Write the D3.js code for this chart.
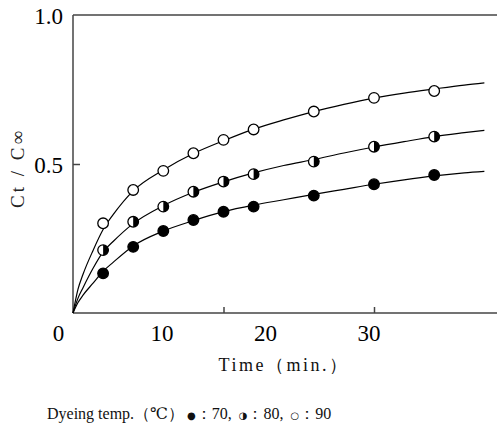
<!DOCTYPE html>
<html>
<head>
<meta charset="utf-8">
<script src="https://cdn.jsdelivr.net/npm/d3@7"></script>
<style>
  body { margin: 0; background: #fff; }
  svg { display: block; }
</style>
</head>
<body>
<div id="viz-1"></div>
<script>
/* ######################## data ###############*/
// sampling times of the measured points (min.)
var pointTimes = [3, 6, 9, 12, 15, 18, 24, 30, 36];
// measured Ct/C∞ at 70, 80, 90 ℃
var points70 = [0.133, 0.222, 0.275, 0.312, 0.340, 0.357, 0.394, 0.432, 0.463];
var points80 = [0.211, 0.306, 0.357, 0.407, 0.441, 0.466, 0.508, 0.558, 0.592];
var points90 = [0.301, 0.413, 0.477, 0.536, 0.581, 0.616, 0.676, 0.722, 0.745];

// the drawn curves, read at these times
var curveTimes = [0, 0.5, 1, 2, 3, 4, 6, 9, 12, 15, 18, 21, 24, 27, 30, 33, 36, 39, 41];
var curve70 = [0, 0.035, 0.06, 0.10, 0.14, 0.17, 0.225, 0.275, 0.31, 0.34, 0.362, 0.38, 0.398, 0.415, 0.432, 0.447, 0.46, 0.47, 0.475];
var curve80 = [0, 0.05, 0.085, 0.15, 0.205, 0.24, 0.30, 0.36, 0.405, 0.44, 0.47, 0.495, 0.515, 0.537, 0.557, 0.575, 0.592, 0.605, 0.613];
var curve90 = [0, 0.08, 0.13, 0.21, 0.28, 0.33, 0.41, 0.48, 0.535, 0.578, 0.617, 0.648, 0.676, 0.70, 0.721, 0.738, 0.752, 0.765, 0.772];

var xTickLabels = [0, 10, 20, 30];
var xTickMarks = [15, 30];
var yTickLabels = [0.5, 1.0];

// footnote pieces: [text, is it a symbol]
var noteParts = [["Dyeing temp.（℃）", false], ["●", true], ["：70, ", false], ["◑", true], ["：80, ", false], ["○", true], ["：90", false]];
/* ####################################################################*/

var width = 497, height = 424;
var serif = "'Liberation Serif', 'DejaVu Serif', serif";
var axisColor = "#444";

var svg = d3.select("#viz-1")
  .append("svg")
  .attr("width", width)
  .attr("height", height);

var x = d3.scaleLinear().domain([0, 30]).range([73, 374]);
var y = d3.scaleLinear().domain([0, 1]).range([313, 15]);
// the printed tick labels sit a bit left of the real positions
var xLabel = d3.scaleLinear().domain([0, 30]).range([58.5, 369]);

// frame: left, top and bottom lines (no right border)
var frame = svg.append("g")
  .attr("stroke", axisColor)
  .attr("stroke-width", 1.5);
frame.append("line").attr("x1", x(0)).attr("x2", x(0)).attr("y1", y(1)).attr("y2", y(0));
frame.append("line").attr("x1", x(0)).attr("x2", width).attr("y1", y(1)).attr("y2", y(1));
frame.append("line").attr("x1", x(0)).attr("x2", width).attr("y1", y(0)).attr("y2", y(0));

// inward tick marks
svg.append("g")
  .attr("transform", "translate(0," + y(0) + ")")
  .call(d3.axisTop(x).tickValues(xTickMarks).tickSize(6).tickFormat(""))
  .call(function(g) { g.select(".domain").remove(); })
  .selectAll("line").attr("stroke", axisColor).attr("stroke-width", 1.5);

svg.append("g")
  .attr("transform", "translate(" + x(0) + ",0)")
  .call(d3.axisRight(y).tickValues([0.5]).tickSize(7).tickFormat(""))
  .call(function(g) { g.select(".domain").remove(); })
  .selectAll("line").attr("stroke", axisColor).attr("stroke-width", 1.5);

// tick labels
svg.append("g")
  .selectAll("text")
  .data(xTickLabels)
  .enter().append("text")
  .attr("x", function(d) { return xLabel(d); })
  .attr("y", 341)
  .attr("text-anchor", "middle")
  .attr("font-family", serif)
  .attr("font-size", 23)
  .text(function(d) { return d; });

svg.append("g")
  .selectAll("text")
  .data(yTickLabels)
  .enter().append("text")
  .attr("x", 63)
  .attr("y", function(d) { return y(d) + 8.5; })
  .attr("text-anchor", "end")
  .attr("font-family", serif)
  .attr("font-size", 23)
  .text(function(d) { return d3.format(".1f")(d); });

// axis titles
svg.append("text")
  .attr("transform", "translate(24,168) rotate(-90)")
  .attr("text-anchor", "middle")
  .attr("font-family", serif)
  .attr("font-size", 19)
  .attr("letter-spacing", 3)
  .attr("fill", "#222")
  .text("Ct / C∞");

svg.append("text")
  .attr("x", 284)
  .attr("y", 371)
  .attr("text-anchor", "middle")
  .attr("font-family", serif)
  .attr("font-size", 18)
  .attr("letter-spacing", 2.5)
  .attr("fill", "#111")
  .text("Time（min.）");

// curves
var line = d3.line()
  .x(function(d) { return x(d[0]); })
  .y(function(d) { return y(d[1]); })
  .curve(d3.curveMonotoneX);

[curve70, curve80, curve90].forEach(function(c) {
  svg.append("path")
    .datum(curveTimes.map(function(t, i) { return [t, c[i]]; }))
    .attr("d", line)
    .attr("fill", "none")
    .attr("stroke", "#000")
    .attr("stroke-width", 1.2);
});

// markers
var r = 5.3;
var series = [
  { values: points70, kind: "full" },
  { values: points80, kind: "half" },
  { values: points90, kind: "open" }
];

series.forEach(function(s) {
  var g = svg.append("g");
  var pts = g.selectAll("g")
    .data(pointTimes.map(function(t, i) { return [t, s.values[i]]; }))
    .enter().append("g")
    .attr("transform", function(d) { return "translate(" + x(d[0]) + "," + y(d[1]) + ")"; });

  pts.append("circle")
    .attr("r", r)
    .attr("fill", s.kind == "full" ? "#000" : "#fff")
    .attr("stroke", "#000")
    .attr("stroke-width", 1.3);

  if (s.kind == "half") {
    // right half black
    pts.append("path")
      .attr("d", "M0," + (-r) + " A" + r + "," + r + " 0 0,1 0," + r + " Z")
      .attr("fill", "#000");
  }
});

// note under the chart
svg.append("text")
  .attr("x", 47)
  .attr("y", 419)
  .attr("font-family", serif)
  .attr("font-size", 16)
  .attr("fill", "#111")
  .selectAll("tspan")
  .data(noteParts)
  .enter().append("tspan")
  .attr("font-family", function(d) { return d[1] ? "'DejaVu Sans', sans-serif" : null; })
  .attr("font-size", function(d) { return d[1] ? 10 : null; })
  .attr("dx", function(d) { return d[1] ? 3 : null; })
  .text(function(d) { return d[0]; });
</script>
</body>
</html>
